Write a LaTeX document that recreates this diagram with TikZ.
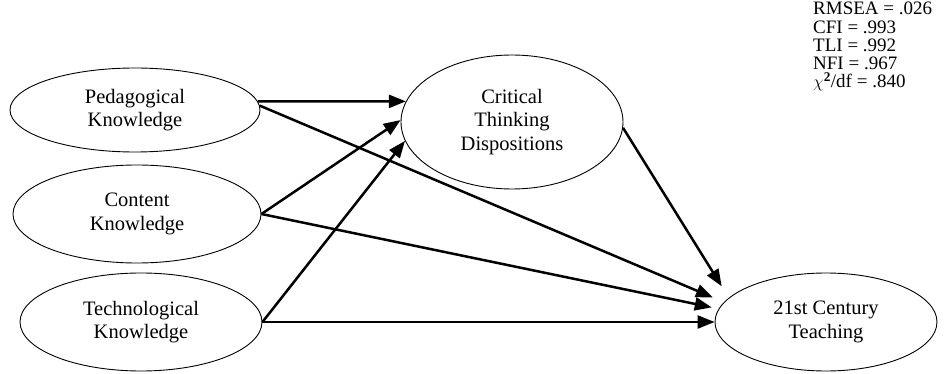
\documentclass[tikz,border=0pt]{standalone}
\usepackage{fontspec}
\setmainfont{Liberation Serif}
\usetikzlibrary{shapes.geometric,arrows.meta}
\begin{document}
\begin{tikzpicture}[x=1pt,y=-1pt,
  lat/.style={draw,ellipse,line width=0.9pt,inner sep=0pt,align=center,
    font=\fontsize{20.5}{23.5}\selectfont},
  path/.style={line width=2.5pt,-{Triangle[length=17pt,width=13pt]}}]
\useasboundingbox (0,0) rectangle (951,374);
\node[lat,minimum width=250pt,minimum height=84pt] (ped) at (135,110) {Pedagogical\\Knowledge};
\node[lat,minimum width=248pt,minimum height=98pt] (con) at (137,214) {Content\\Knowledge};
\node[lat,minimum width=242pt,minimum height=98pt] (tec) at (141,322) {Technological\\Knowledge};
\node[lat,minimum width=222pt,minimum height=134pt] (crit) at (512,122) {Critical\\Thinking\\Dispositions};
\node[lat,minimum width=222pt,minimum height=98pt] (tea) at (826,322) {21st Century\\Teaching};
\node[anchor=north west,align=left,inner sep=0pt,
  font=\fontsize{19}{18.2}\selectfont] (fit) at (813,2)
  {RMSEA = .026\\CFI = .993\\TLI = .992\\NFI = .967\\$\chi^{\mathbf{2}}$/df = .840};
\draw[path] (ped.4) -- (crit.169);
\draw[path] (con.east) -- (crit.179);
\draw[path] (tec.east) -- (crit.190);
\draw[path,shorten >=12pt] (ped.2) -- (tea.169.8);
\draw[path,shorten >=7pt] (con.east) -- (tea.173.4);
\draw[path] (tec.east) -- (tea.west);
\draw[path,shorten >=13.5pt] (crit.357) -- (tea.166.1);
\end{tikzpicture}
\end{document}
